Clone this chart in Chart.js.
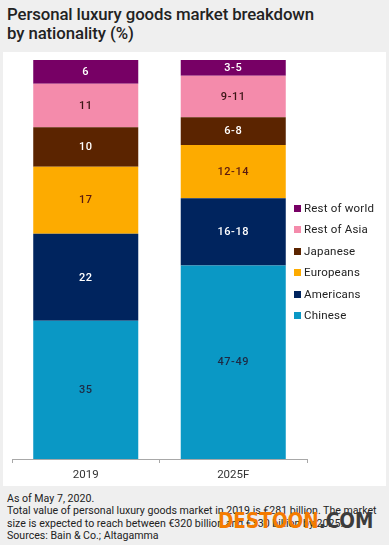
<!DOCTYPE html>
<html>
<head>
<meta charset="utf-8">
<script src="https://cdn.jsdelivr.net/npm/chart.js@4/dist/chart.umd.min.js"></script>
<style>
    html, body { margin: 0; padding: 0; }
    body {
        width: 389px; height: 545px; overflow: hidden;
        background: #efefef; position: relative;
        font-family: Roboto, "Noto Sans", sans-serif; color: #222;
    }
    #title {
        position: absolute; left: 7px; top: 5px;
        font-size: 16.8px; font-weight: 500; line-height: 19px; letter-spacing: -0.1px;
    }
    #panel {
        position: absolute; left: 3px; top: 52px; width: 383px; height: 434px;
        background: #fff;
    }
    #legend {
        position: absolute; left: 294px; top: 201px;
        font-size: 11.5px; letter-spacing: 0.2px; color: #222;
    }
    #legend div { height: 21.4px; line-height: 15px; white-space: nowrap; }
    #legend span.box {
        display: inline-block; width: 7px; height: 7px; margin-right: 3px; vertical-align: 0px;
    }
    #notes {
        position: absolute; left: 7px; top: 493px;
        font-size: 10.6px; line-height: 12.3px; color: #222;
    }
    #mark {
        position: absolute; left: 218px; top: 509px;
        font-family: "DejaVu Sans", sans-serif; font-weight: bold; font-size: 21px;
        line-height: 24px; white-space: nowrap;
        transform: scaleX(0.88); transform-origin: left top;
    }
</style>
</head>
<body>
<div id="title">Personal luxury goods market breakdown<br>by nationality (%)</div>
<div id="panel"><canvas id="breakdownChart" width="383" height="434"></canvas></div>
<div id="legend"></div>
<div id="notes">
    As of May 7, 2020.<br>
    Total value of personal luxury goods market in 2019 is €281 billion. The market<br>
    size is expected to reach between €320 billion and €330 billion by 2025.<br>
    Sources: Bain &amp; Co.; Altagamma
</div>
<div id="mark"><span style="color:#f47b00">DESTOON</span><span style="color:#3c3c3c">.COM</span></div>

<script>
// Categories and series (bottom of stack first)
const years = ["2019", "2025F"];
const nationalities = ["Chinese", "Americans", "Europeans", "Japanese", "Rest of Asia", "Rest of world"];
const chinese = [35, 49];
const americans = [22, 17];
const europeans = [17, 13.5];
const japanese = [10, 7];
const restOfAsia = [11, 10.5];
const restOfWorld = [6, 4];

// Printed labels (2025F is a forecast range)
const chineseLabels = ["35", "47-49"];
const americansLabels = ["22", "16-18"];
const europeansLabels = ["17", "12-14"];
const japaneseLabels = ["10", "6-8"];
const restOfAsiaLabels = ["11", "9-11"];
const restOfWorldLabels = ["6", "3-5"];

const colors = ["#0a98c5", "#00245e", "#fdab00", "#5b2400", "#f48bab", "#770065"];
const labelColors = ["#1e2a44", "#ffffff", "#5a1a10", "#ffffff", "#3a1515", "#ffffff"];

const seriesValues = [chinese, americans, europeans, japanese, restOfAsia, restOfWorld];
const seriesLabels = [chineseLabels, americansLabels, europeansLabels, japaneseLabels, restOfAsiaLabels, restOfWorldLabels];

// Draw value labels in the middle of each segment
const segmentLabels = {
    id: 'segmentLabels',
    afterDatasetsDraw(chart) {
        const ctx = chart.ctx;
        ctx.save();
        ctx.font = "500 11px Roboto, sans-serif";
        ctx.letterSpacing = "0.6px";
        ctx.textAlign = "center";
        ctx.textBaseline = "middle";
        chart.data.datasets.forEach((ds, i) => {
            chart.getDatasetMeta(i).data.forEach((bar, j) => {
                const mid = (bar.y + bar.base) / 2;
                ctx.fillStyle = labelColors[i];
                ctx.fillText(seriesLabels[i][j], bar.x, mid + 0.5);
            });
        });
        ctx.restore();
    }
};

const ctx = document.getElementById("breakdownChart").getContext("2d");

const chart = new Chart(ctx, {
    type: "bar",
    data: {
        labels: years,
        datasets: nationalities.map((name, i) => ({
            label: name,
            data: seriesValues[i],
            backgroundColor: colors[i],
            borderWidth: 0,
            categoryPercentage: 1,
            barPercentage: 0.712
        }))
    },
    options: {
        responsive: false,
        animation: false,
        layout: { padding: { left: 9, right: 79, top: 8, bottom: 0 } },
        plugins: {
            legend: { display: false },
            tooltip: { enabled: false }
        },
        scales: {
            x: {
                stacked: true,
                border: { display: true, color: "#a8a8a8", width: 1 },
                grid: {
                    display: true,
                    drawOnChartArea: false,
                    drawTicks: true,
                    tickLength: 4,
                    color: "#a8a8a8"
                },
                ticks: {
                    color: "#333",
                    padding: 5,
                    font: { family: "Roboto", size: 11.5 }
                },
                afterFit: (scale) => { scale.height = 27; }
            },
            y: {
                stacked: true,
                display: false,
                min: 0,
                max: 101
            }
        }
    },
    plugins: [segmentLabels]
});

// Legend: top of the stack listed first
const legendBox = document.getElementById("legend");
chart.data.datasets.slice().reverse().forEach(ds => {
    const row = document.createElement("div");
    row.innerHTML = `<span class="box" style="background:${ds.backgroundColor}"></span>${ds.label}`;
    legendBox.appendChild(row);
});
</script>
</body>
</html>
